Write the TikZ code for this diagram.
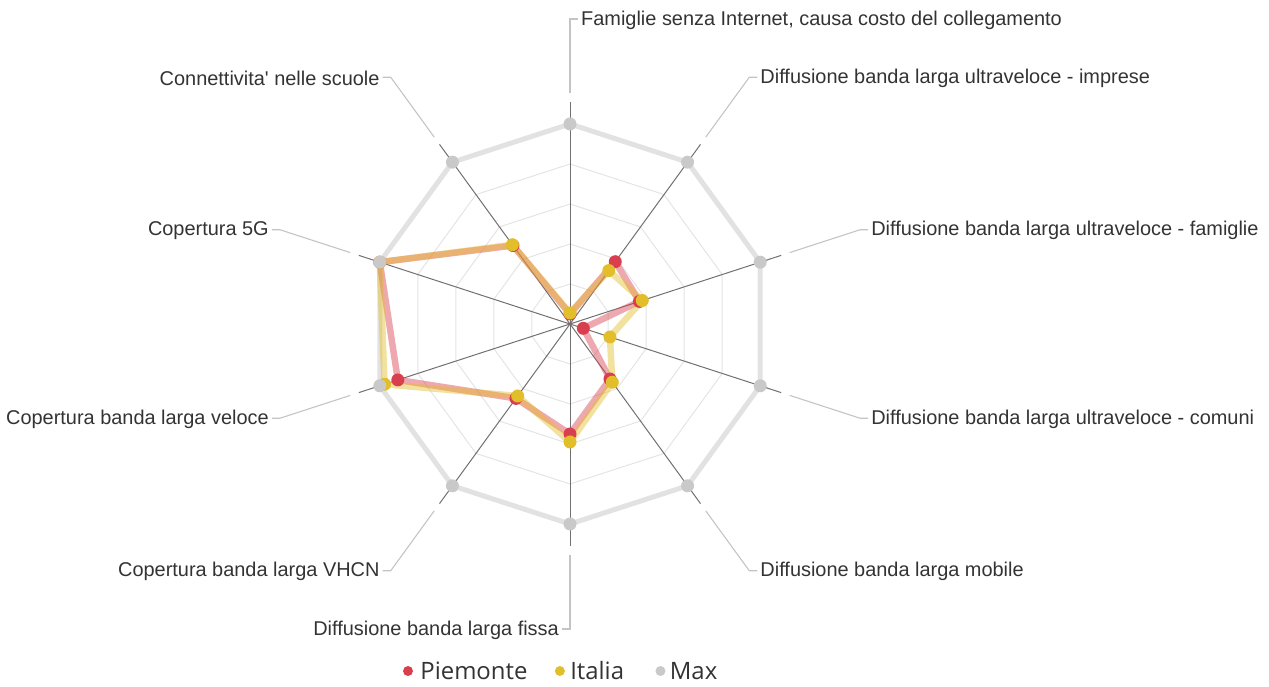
\documentclass[tikz,border=0pt]{standalone}
\usepackage{fontspec}
\setmainfont{Liberation Sans}
\newfontfamily\legendfont{Open Sans}
\usetikzlibrary{calc,positioning}

\definecolor{piemonte}{HTML}{D9404F}
\definecolor{italia}{HTML}{E3BE2B}
\definecolor{maxdot}{HTML}{C9C9C9}
\definecolor{maxline}{HTML}{E2E2E2}
\definecolor{gridgray}{HTML}{E4E4E4}
\definecolor{axisgray}{HTML}{707070}
\definecolor{leadergray}{HTML}{C4C4C4}
\definecolor{labeltext}{HTML}{333333}

\begin{document}
\begin{tikzpicture}[x=1bp, y=1bp,
    gridline/.style={draw=gridgray, line width=1bp},
    axisline/.style={draw=axisgray, line width=1bp},
    leader/.style={draw=leadergray, line width=1.1bp},
    axislabel/.style={font=\fontsize{20}{24}\selectfont, text=labeltext, inner xsep=3bp, inner ysep=0pt},
    serie/.style={draw=#1, line width=6.5bp, draw opacity=0.45, line join=round},
    dot/.style={circle, fill=#1, inner sep=0pt, minimum size=13bp},
    legenddot/.style={circle, fill=#1, inner sep=0pt, minimum size=10bp},
    legendtext/.style={font=\legendfont\fontsize{24}{28}\selectfont, text=black!80, inner sep=0pt}]
  \useasboundingbox (0,0) rectangle (1269,687);

  \begin{scope}[shift={(570,363)}]
    \coordinate (O) at (0,0);

    % grid rings
    \foreach \r in {40,80,120,160}
      \draw[gridline] (90:\r) \foreach \i in {1,...,9}{ -- (90-36*\i:\r)} -- cycle;

    % axes, leaders and labels
    \foreach \i/\sgn/\anc/\txt in {
        0/1/west/{Famiglie senza Internet, causa costo del collegamento},
        1/1/west/{Diffusione banda larga ultraveloce - imprese},
        2/1/west/{Diffusione banda larga ultraveloce - famiglie},
        3/1/west/{Diffusione banda larga ultraveloce - comuni},
        4/1/west/{Diffusione banda larga mobile},
        5/-1/east/{Diffusione banda larga fissa},
        6/-1/east/{Copertura banda larga VHCN},
        7/-1/east/{Copertura banda larga veloce},
        8/-1/east/{Copertura 5G},
        9/-1/east/{Connettivita\textquotesingle{} nelle scuole}} {
      \coordinate (end\i) at (90-36*\i:222);
      \coordinate (start\i) at (90-36*\i:231);
      \coordinate (corner\i) at (90-36*\i:305);
      \node[axislabel, anchor=\anc] (lab\i) at ($(corner\i)+(\sgn*8,-1)$) {\txt};
      \draw[axisline] (O) -- (end\i);
      \draw[leader] (start\i) -- (corner\i) -- ++(\sgn*8,0);
    }

    % Max
    \foreach \r [count=\i from 0] in {200,200,200,200,200,200,200,200,200,200}
      \coordinate (mx\i) at (90-36*\i:\r);
    \draw[draw=maxline, line width=5bp, line join=round] (mx0) \foreach \i in {1,...,9}{ -- (mx\i)} -- cycle;

    % Piemonte
    \foreach \r [count=\i from 0] in {10,77,73,14,68,110,92,181,200,97}
      \coordinate (pie\i) at (90-36*\i:\r);
    \draw[serie=piemonte] (pie0) \foreach \i in {1,...,9}{ -- (pie\i)} -- cycle;

    % Italia
    \foreach \r [count=\i from 0] in {11,66,76,42,72,118,89,195,200,98}
      \coordinate (ita\i) at (90-36*\i:\r);
    \draw[serie=italia] (ita0) \foreach \i in {1,...,9}{ -- (ita\i)} -- cycle;

    % markers
    \foreach \i in {0,...,9} {
      \node[dot=piemonte] (pd\i) at (pie\i) {};
    }
    \foreach \i in {0,...,9} {
      \node[dot=italia] (id\i) at (ita\i) {};
    }
    \foreach \i in {0,...,9} {
      \node[dot=maxdot] (md\i) at (mx\i) {};
    }
  \end{scope}

  % legend
  \node[legenddot=piemonte] (lgpie) at (408,16) {};
  \node[legendtext, right=7bp of lgpie] (lgpietxt) {Piemonte};
  \node[legenddot=italia, right=27bp of lgpietxt] (lgita) {};
  \node[legendtext, right=5bp of lgita] (lgitatxt) {Italia};
  \node[legenddot=maxdot, right=31bp of lgitatxt] (lgmax) {};
  \node[legendtext, right=4bp of lgmax] (lgmaxtxt) {Max};
\end{tikzpicture}
\end{document}
